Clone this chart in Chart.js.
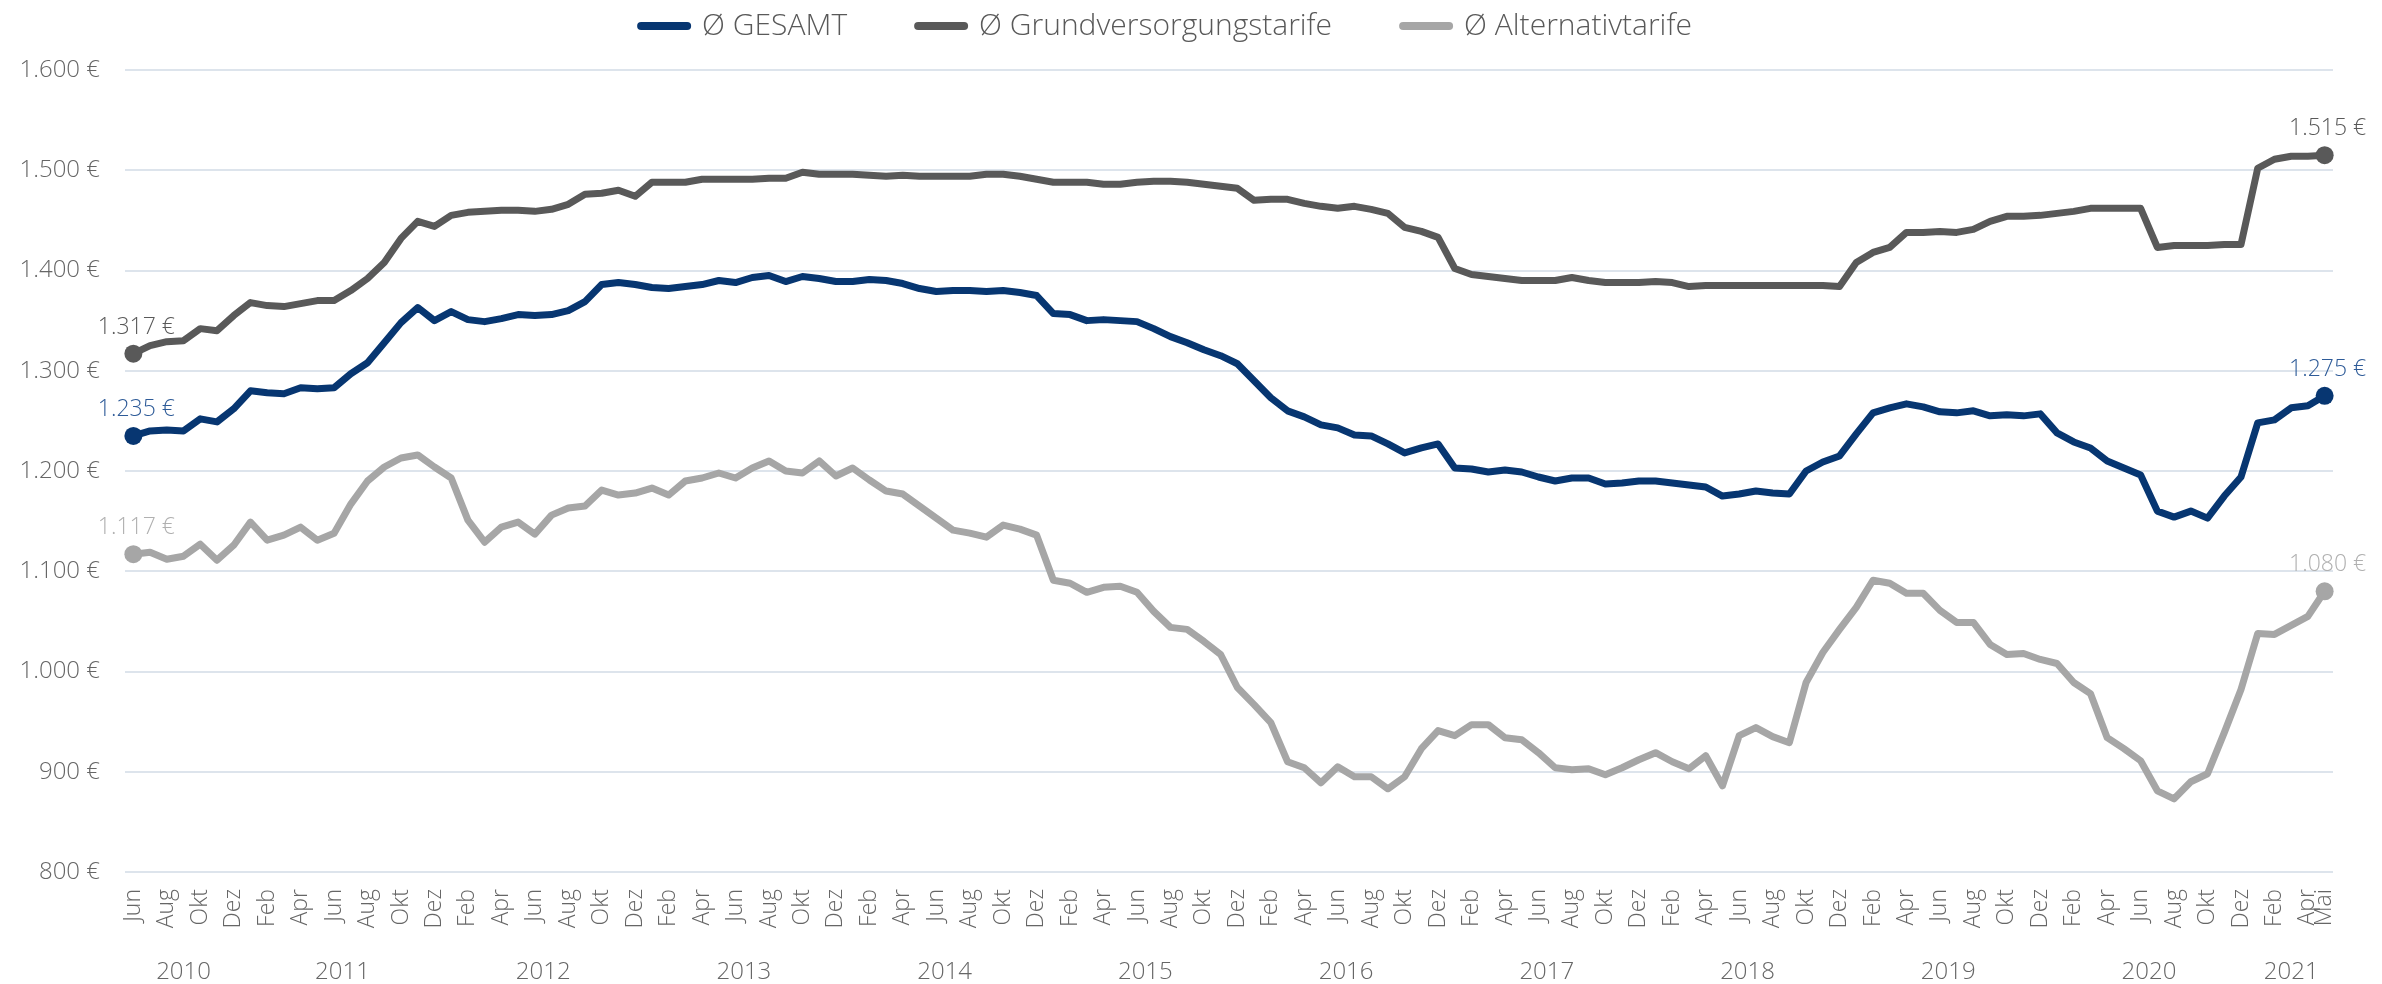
<!DOCTYPE html>
<html lang="de">
<head>
<meta charset="utf-8">
<title>Ø Preise GESAMT / Grundversorgung / Alternativtarife</title>
<script src="https://cdn.jsdelivr.net/npm/chart.js@4.4.1/dist/chart.umd.min.js"></script>
<style>
  html, body { margin: 0; padding: 0; background: #fff; }
  #wrap { width: 2382px; height: 984px; }
</style>
</head>
<body>
<div id="wrap"><canvas id="priceChart" width="2382" height="984"></canvas></div>
<script>
// Monatswerte Jun 2010 bis Mai 2021

const monthNames = ['Jan', 'Feb', 'Mär', 'Apr', 'Mai', 'Jun', 'Jul', 'Aug', 'Sep', 'Okt', 'Nov', 'Dez'];
const firstMonth = 5;   // Jun
const firstYear = 2010;

const gesamt = [
    1235, 1240, 1241, 1240, 1252, 1249, 1262, 1280, 1278, 1277, 1283, 1282, 1283, 1297, 1308, 1328, 1348, 1363, 1350, 1359,
    1351, 1349, 1352, 1356, 1355, 1356, 1360, 1369, 1386, 1388, 1386, 1383, 1382, 1384, 1386, 1390, 1388, 1393, 1395, 1389, 1394, 1392, 1389,
    1389, 1391, 1390, 1387, 1382, 1379, 1380, 1380, 1379, 1380, 1378, 1375, 1357, 1356, 1350, 1351, 1350, 1349, 1342, 1334, 1328, 1321,
    1315, 1307, 1290, 1273, 1260, 1254, 1246, 1243, 1236, 1235, 1227, 1218, 1223, 1227, 1203, 1202, 1199, 1201, 1199, 1194, 1190, 1193, 1193,
    1187, 1188, 1190, 1190, 1188, 1186, 1184, 1175, 1177, 1180, 1178, 1177, 1200, 1209, 1215, 1237, 1258, 1263, 1267, 1264, 1259, 1258,
    1260, 1255, 1256, 1255, 1257, 1238, 1229, 1223, 1210, 1203, 1196, 1160, 1154, 1160, 1153, 1175, 1194, 1248, 1251, 1263, 1265, 1275
];

const grund = [
    1317, 1325, 1329, 1330, 1342, 1340, 1355, 1368, 1365, 1364, 1367, 1370, 1370, 1380, 1392, 1408, 1432, 1449, 1444, 1455,
    1458, 1459, 1460, 1460, 1459, 1461, 1466, 1476, 1477, 1480, 1474, 1488, 1488, 1488, 1491, 1491, 1491, 1491, 1492, 1492, 1498, 1496, 1496,
    1496, 1495, 1494, 1495, 1494, 1494, 1494, 1494, 1496, 1496, 1494, 1491, 1488, 1488, 1488, 1486, 1486, 1488, 1489, 1489, 1488, 1486,
    1484, 1482, 1470, 1471, 1471, 1467, 1464, 1462, 1464, 1461, 1457, 1443, 1439, 1433, 1402, 1396, 1394, 1392, 1390, 1390, 1390, 1393, 1390,
    1388, 1388, 1388, 1389, 1388, 1384, 1385, 1385, 1385, 1385, 1385, 1385, 1385, 1385, 1384, 1408, 1418, 1423, 1438, 1438, 1439, 1438,
    1441, 1449, 1454, 1454, 1455, 1457, 1459, 1462, 1462, 1462, 1462, 1423, 1425, 1425, 1425, 1426, 1426, 1502, 1511, 1514, 1514, 1515
];

const alternativ = [
    1117, 1119, 1112, 1115, 1127, 1111, 1126, 1149, 1131, 1136, 1144, 1131, 1138, 1167, 1190, 1204, 1213, 1216, 1204, 1193,
    1151, 1129, 1144, 1149, 1137, 1156, 1163, 1165, 1181, 1176, 1178, 1183, 1176, 1190, 1193, 1198, 1193, 1203, 1210, 1200, 1198, 1210, 1195,
    1203, 1191, 1180, 1177, 1165, 1153, 1141, 1138, 1134, 1146, 1142, 1136, 1091, 1088, 1079, 1084, 1085, 1079, 1060, 1044, 1042, 1030,
    1017, 984, 967, 949, 910, 904, 889, 905, 895, 895, 883, 895, 923, 941, 936, 947, 947, 934, 932, 919, 904, 902, 903,
    897, 904, 912, 919, 910, 903, 916, 886, 936, 944, 935, 929, 989, 1019, 1042, 1064, 1091, 1088, 1078, 1078, 1061, 1049,
    1049, 1027, 1017, 1018, 1012, 1008, 989, 978, 934, 923, 911, 881, 873, 890, 898, 939, 982, 1038, 1037, 1046, 1055, 1080
];

const seriesNames = ['Ø GESAMT', 'Ø Grundversorgungstarife', 'Ø Alternativtarife'];

// Kategorien (Monate) und Jahre
const labels = [];
const labelYears = [];
for (let i = 0; i < gesamt.length; i++) {
    labels.push(monthNames[(firstMonth + i) % 12]);
    labelYears.push(firstYear + Math.floor((firstMonth + i) / 12));
}
const years = [...new Set(labelYears)];
const yearCenters = years.map(y => (labelYears.indexOf(y) + labelYears.lastIndexOf(y)) / 2);

const FONT = "'Open Sans', 'Lato', sans-serif";
const LINE_W = 7;

function fmt(v) {
    return String(v).replace(/\B(?=(\d{3})+(?!\d))/g, '.') + ' €';
}

function lineSet(label, data, color, labelColor) {
    const last = data.length - 1;
    return {
        label: label,
        data: data,
        borderColor: color,
        backgroundColor: color,
        borderWidth: LINE_W,
        borderCapStyle: 'round',
        borderJoinStyle: 'round',
        tension: 0,
        fill: false,
        pointRadius: data.map((v, i) => (i === 0 || i === last) ? 9 : 0),
        pointHoverRadius: 0,
        pointBorderWidth: 0,
        labelColor: labelColor
    };
}

// Werte am Anfang und Ende
const endLabels = {
    id: 'endLabels',
    afterDatasetsDraw(chart) {
        const ctx = chart.ctx;
        ctx.save();
        ctx.font = '300 23px ' + FONT;
        ctx.textAlign = 'center';
        ctx.textBaseline = 'alphabetic';
        chart.data.datasets.forEach((ds, di) => {
            const meta = chart.getDatasetMeta(di);
            [0, ds.data.length - 1].forEach(i => {
                const pt = meta.data[i];
                ctx.fillStyle = ds.labelColor;
                ctx.fillText(fmt(ds.data[i]), pt.x + 3, pt.y - 20);
            });
        });
        ctx.restore();
    }
};

// Legendenhöhe fest
const legendHeight = {
    id: 'legendHeight',
    beforeInit(chart) {
        const fit = chart.legend.fit;
        chart.legend.fit = function () {
            fit.call(this);
            this.height = 70;
        };
    }
};

const ctx = document.getElementById('priceChart').getContext('2d');
const priceChart = new Chart(ctx, {
    type: 'line',
    data: {
        labels: labels,
        datasets: [
            lineSet(seriesNames[0], gesamt, '#073671', '#2e5b98'),
            lineSet(seriesNames[1], grund, '#595959', '#595959'),
            lineSet(seriesNames[2], alternativ, '#a6a6a6', '#b0b0b0')
        ]
    },
    options: {
        responsive: false,
        animation: false,
        events: [],
        layout: { padding: { left: 0, right: 49, top: 0, bottom: 0 } },
        scales: {
            x: {
                type: 'category',
                offset: true,
                weight: 0,
                grid: { display: false, drawTicks: false },
                border: { display: false },
                ticks: {
                    autoSkip: false,
                    minRotation: 90,
                    maxRotation: 90,
                    padding: 17,
                    color: '#666666',
                    font: { family: FONT, size: 23, weight: '300' },
                    callback: function (value, index) {
                        return (index % 2 === 0 || index === labels.length - 1) ? labels[index] : '';
                    }
                },
                afterFit(scale) { scale.height = 80; }
            },
            xYear: {
                type: 'linear',
                position: 'bottom',
                weight: 1,
                min: -0.5,
                max: labels.length - 0.5,
                grid: { display: false, drawTicks: false },
                border: { display: false },
                afterBuildTicks(scale) {
                    scale.ticks = yearCenters.map(v => ({ value: v }));
                },
                ticks: {
                    autoSkip: false,
                    maxRotation: 0,
                    minRotation: 0,
                    padding: 6,
                    color: '#666666',
                    font: { family: FONT, size: 24, weight: '300' },
                    callback: function (value, index) { return years[index]; }
                },
                afterFit(scale) { scale.height = 32; }
            },
            y: {
                min: 800,
                max: 1600,
                grid: { color: '#dde4ec', lineWidth: 2, drawTicks: false },
                border: { display: false },
                ticks: {
                    stepSize: 100,
                    padding: 25,
                    color: '#666666',
                    font: { family: FONT, size: 24, weight: '300' },
                    callback: function (value) { return fmt(value); }
                },
                afterFit(scale) { scale.width = 125; }
            }
        },
        plugins: {
            legend: {
                position: 'top',
                labels: {
                    usePointStyle: true,
                    pointStyle: 'line',
                    pointStyleWidth: 46,
                    padding: 11,
                    color: '#595959',
                    font: { family: FONT, size: 30, weight: '300' },
                    generateLabels(chart) {
                        const items = Chart.defaults.plugins.legend.labels.generateLabels(chart);
                        items.forEach((it, i) => {
                            const ds = chart.data.datasets[i];
                            it.pointStyle = 'line';
                            it.lineWidth = LINE_W + 1;
                            it.strokeStyle = ds.borderColor;
                            it.fillStyle = ds.borderColor;
                            it.lineCap = 'round';
                            if (i < items.length - 1) it.text = it.text + '\u2002\u2002\u2002\u2002';
                        });
                        return items;
                    }
                }
            },
            title: { display: false },
            tooltip: { enabled: false }
        }
    },
    plugins: [endLabels, legendHeight]
});
</script>
</body>
</html>
